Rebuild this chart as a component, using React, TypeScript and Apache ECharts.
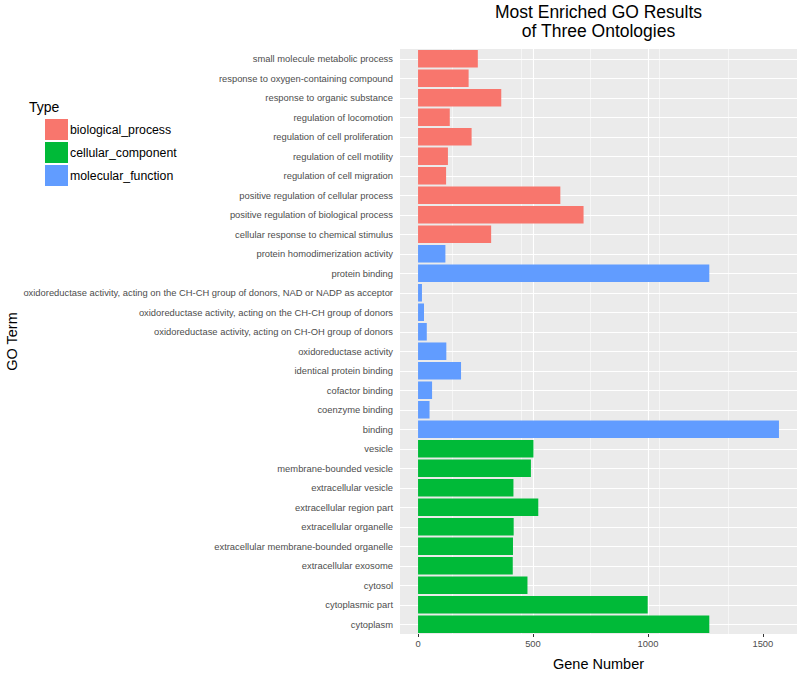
import React, { useEffect, useRef } from "react";
import * as echarts from "echarts";

const categories = [
  "small molecule metabolic process",
  "response to oxygen-containing compound",
  "response to organic substance",
  "regulation of locomotion",
  "regulation of cell proliferation",
  "regulation of cell motility",
  "regulation of cell migration",
  "positive regulation of cellular process",
  "positive regulation of biological process",
  "cellular response to chemical stimulus",
  "protein homodimerization activity",
  "protein binding",
  "oxidoreductase activity, acting on the CH-CH group of donors, NAD or NADP as acceptor",
  "oxidoreductase activity, acting on the CH-CH group of donors",
  "oxidoreductase activity, acting on CH-OH group of donors",
  "oxidoreductase activity",
  "identical protein binding",
  "cofactor binding",
  "coenzyme binding",
  "binding",
  "vesicle",
  "membrane-bounded vesicle",
  "extracellular vesicle",
  "extracellular region part",
  "extracellular organelle",
  "extracellular membrane-bounded organelle",
  "extracellular exosome",
  "cytosol",
  "cytoplasmic part",
  "cytoplasm",
];

const geneNumbers = [
  260, 220, 362, 138, 233, 130, 122, 619, 720, 318,
  119, 1267, 17, 26, 38, 123, 187, 61, 50, 1570,
  502, 491, 415, 523, 416, 413, 412, 476, 999, 1267,
];

const types = [
  "biological_process", "biological_process", "biological_process", "biological_process", "biological_process",
  "biological_process", "biological_process", "biological_process", "biological_process", "biological_process",
  "molecular_function", "molecular_function", "molecular_function", "molecular_function", "molecular_function",
  "molecular_function", "molecular_function", "molecular_function", "molecular_function", "molecular_function",
  "cellular_component", "cellular_component", "cellular_component", "cellular_component", "cellular_component",
  "cellular_component", "cellular_component", "cellular_component", "cellular_component", "cellular_component",
];

const typeNames = ["biological_process", "cellular_component", "molecular_function"];
const typeColors = ["#F8766D", "#00BA38", "#619CFF"];
const xTicks = [0, 500, 1000, 1500];

const FONT = "'Liberation Sans', Arial, Helvetica, sans-serif";

export default function App() {
  const ref = useRef<HTMLDivElement>(null);

  useEffect(() => {
    if (!ref.current) return;
    const chart = echarts.init(ref.current, null, { renderer: "svg" });

    const barSeries = typeNames.map((t, i) => ({
      name: t,
      type: "bar",
      stack: "total",
      barCategoryGap: "10%",
      z: 3,
      itemStyle: { color: typeColors[i] },
      data: geneNumbers.map((v, k) => (types[k] === t ? v : "-")),
    }));

    const option = {
      animation: false,
      backgroundColor: "#ffffff",
      textStyle: { fontFamily: FONT },
      title: {
        text: "Most Enriched GO Results\nof Three Ontologies",
        left: 598.5,
        top: 2,
        padding: 0,
        textAlign: "center",
        textStyle: {
          fontFamily: FONT,
          fontSize: 17.5,
          fontWeight: "normal",
          color: "#000000",
          lineHeight: 19,
        },
      },
      legend: {
        data: typeNames,
        orient: "vertical",
        left: 45,
        top: 119,
        icon: "rect",
        itemWidth: 23,
        itemHeight: 21,
        itemGap: 2,
        padding: 0,
        selectedMode: false,
        textStyle: { fontFamily: FONT, fontSize: 12.3, color: "#000000", padding: [0, 0, 0, -3] },
      },
      graphic: [
        {
          type: "text",
          left: 29,
          top: 100,
          style: { text: "Type", fontFamily: FONT, fontSize: 14, fill: "#000000" },
        },
      ],
      grid: {
        left: 400,
        right: 3,
        top: 49,
        bottom: 36,
        show: true,
        backgroundColor: "#EBEBEB",
        borderWidth: 0,
      },
      xAxis: {
        type: "value",
        min: -78.5,
        max: 1648.5,
        name: "Gene Number",
        nameLocation: "middle",
        nameGap: 22,
        nameTextStyle: { fontFamily: FONT, fontSize: 14.5, color: "#000000" },
        axisLine: { show: false },
        axisTick: {
          show: true,
          length: 3,
          lineStyle: { color: "#333333", width: 1 },
          customValues: xTicks,
        },
        axisLabel: {
          fontFamily: FONT,
          fontSize: 9.4,
          color: "#4D4D4D",
          margin: 5,
          customValues: xTicks,
          formatter: (v: number) => String(v),
        },
        splitLine: {
          show: true,
          showMinLine: false,
          showMaxLine: false,
          lineStyle: { color: "#FFFFFF", width: 1.1 },
        },
        minorTick: { show: false, splitNumber: 2 },
        minorSplitLine: { show: true, lineStyle: { color: "#FFFFFF", width: 0.55 } },
      },
      yAxis: {
        type: "category",
        inverse: true,
        data: categories,
        name: "GO Term",
        nameLocation: "middle",
        nameGap: 381,
        nameRotate: 90,
        nameTextStyle: { fontFamily: FONT, fontSize: 14.5, color: "#000000" },
        axisLine: { show: false },
        axisTick: {
          show: true,
          alignWithLabel: true,
          length: 3,
          lineStyle: { color: "#333333", width: 1 },
        },
        axisLabel: {
          fontFamily: FONT,
          fontSize: 9.4,
          color: "#4D4D4D",
          margin: 7,
        },
        splitLine: { show: false },
      },
      series: [
        {
          name: "gridlines",
          type: "line",
          z: 1,
          silent: true,
          showSymbol: false,
          data: categories.map(() => "-"),
          markLine: {
            z: 1,
            silent: true,
            symbol: ["none", "none"],
            label: { show: false },
            lineStyle: { color: "#FFFFFF", width: 1.1, type: "solid" },
            data: categories.map((c) => ({ yAxis: c })),
          },
        },
        ...barSeries,
      ],
    };

    chart.setOption(option as any);
    return () => chart.dispose();
  }, []);

  return (
    <div
      ref={ref}
      style={{ position: "fixed", left: 0, top: 0, width: 800, height: 676 }}
    />
  );
}
